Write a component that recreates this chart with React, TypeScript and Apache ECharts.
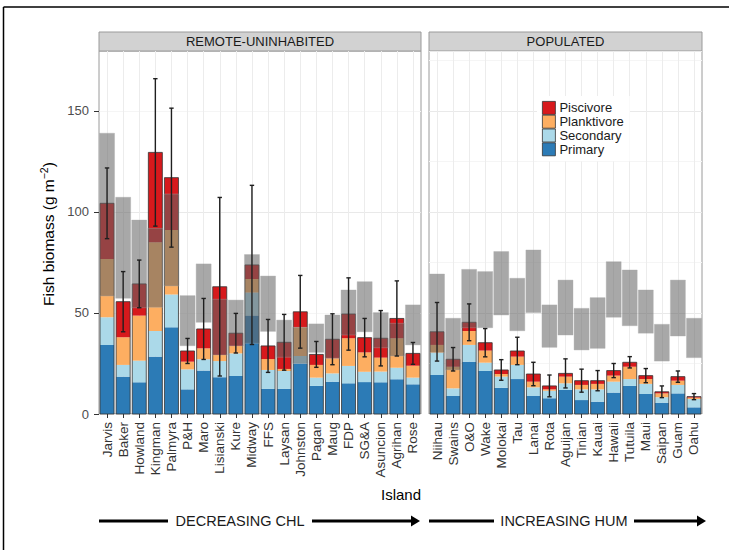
import React, { useEffect, useRef } from "react";
import * as echarts from "echarts";

// ---------- DATA ----------
const remoteIslands = ["Jarvis", "Baker", "Howland", "Kingman", "Palmyra", "P&H", "Maro", "Lisianski", "Kure", "Midway", "FFS", "Laysan", "Johnston", "Pagan", "Maug", "FDP", "SG&A", "Asuncion", "Agrihan", "Rose"];
const remotePrimary = [34.2, 18.5, 15.7, 28.4, 42.9, 12.2, 21.5, 18.2, 18.8, 48.7, 12.4, 12.4, 25.1, 13.9, 16, 15.2, 15.8, 15.7, 17.2, 14.7];
const remoteSecondary = [13.7, 5.8, 10.7, 12.7, 16.3, 9.9, 5.6, 8, 11.2, 11.5, 9.4, 8.9, 3.6, 4.1, 4.1, 8.6, 5.1, 5.3, 5.7, 3.3];
const remotePlanktivore = [28.8, 13.7, 22.3, 43.9, 31.9, 3.8, 5.4, 3, 3.7, 6.6, 5.4, 1, 14.2, 6.3, 7.5, 13.7, 9.6, 6.9, 14.6, 5.9];
const remotePiscivore = [27.6, 17.6, 15.7, 44.5, 25.9, 5.3, 9.6, 33.8, 6.3, 7, 6.5, 13.2, 7.7, 5.2, 9.4, 12, 7.3, 9.6, 9.8, 6.1];
const remoteSE = [17.5, 14.9, 11.8, 36.5, 34.4, 6.2, 15.1, 44.2, 9.8, 39.4, 13.1, 13.8, 18, 6.4, 12.6, 17.9, 9.5, 13.7, 18.6, 5.4];
const remotePredLow = [58.4, 57.3, 52.6, 52.8, 63.4, 33.8, 45.4, 29.2, 33.7, 35, 40.9, 28.1, 25, 30.5, 27.6, 39.1, 40.7, 32.8, 28.7, 34.2];
const remotePredHigh = [139, 107.3, 96, 91.9, 108.9, 58.6, 74.3, 56.8, 56.4, 78.9, 68.3, 46.5, 42.9, 44.6, 49, 61.4, 65.5, 50.2, 44.9, 54];

const popIslands = ["Niihau", "Swains", "O&O", "Wake", "Molokai", "Tau", "Lanai", "Rota", "Aguijan", "Tinian", "Kauai", "Hawaii", "Tutuila", "Maui", "Saipan", "Guam", "Oahu"];
const popPrimary = [19.3, 8.9, 25.9, 21.3, 13, 17.3, 8.9, 7.8, 11.9, 6.9, 6.1, 10.6, 13.9, 9.9, 5.6, 10.2, 3.3];
const popSecondary = [11.1, 3.8, 8.3, 4.1, 5.5, 7, 4.3, 3.7, 3.3, 5.3, 6.1, 5.4, 3.4, 5, 2.7, 4.2, 4.1];
const popPlanktivore = [3.8, 10.7, 6.9, 6, 1.3, 4.1, 2.8, 0.7, 3.3, 2.2, 2.7, 3, 6.1, 2.4, 1.9, 2.1, 0.7];
const popPiscivore = [6.5, 3.7, 4.3, 3.9, 2, 2.8, 3.8, 1.7, 1.6, 2.1, 1.6, 2.5, 2.2, 1.7, 0.8, 2, 0.5];
const popSE = [14.5, 5.8, 9.1, 7, 5.1, 6.8, 5.8, 5.4, 7.2, 5.7, 5, 3.5, 2.8, 3.5, 2.9, 2.8, 1.5];
const popPredLow = [30.4, 21.8, 42.7, 42.7, 49, 41.2, 50.2, 33, 39.1, 31.7, 32.5, 47.9, 43.7, 40, 26.2, 38.6, 27.9];
const popPredHigh = [69.3, 47.4, 71.6, 70.5, 80.4, 67.2, 81.2, 54, 66.3, 52.3, 57.6, 75.4, 71.3, 61.4, 44.4, 66.3, 47.4];

const yTicks = [0, 50, 100, 150];
const panelNames = ["REMOTE-UNINHABITED", "POPULATED"];
const groupNames = ["Primary", "Secondary", "Planktivore", "Piscivore"];
const groupColors = ["#2c7bb6", "#abd9e9", "#fdae61", "#d7191c"];

const FONT = "'Liberation Sans', Arial, Helvetica, sans-serif";
const Y_MAX = 179.7;

const panels = [
  { cats: remoteIslands, vals: [remotePrimary, remoteSecondary, remotePlanktivore, remotePiscivore], se: remoteSE, lo: remotePredLow, hi: remotePredHigh },
  { cats: popIslands, vals: [popPrimary, popSecondary, popPlanktivore, popPiscivore], se: popSE, lo: popPredLow, hi: popPredHigh },
];

const gridBoxes = [
  { left: 99, top: 51, width: 322, height: 363 },
  { left: 429, top: 51, width: 273, height: 363 },
];

export default function App() {
  const ref = useRef<HTMLDivElement>(null);
  useEffect(() => {
    const chart = echarts.init(ref.current!, null, { renderer: "svg" });
    const BAR_FRAC = 0.87;

    const grid = gridBoxes.map((g) => ({
      ...g,
      show: true,
      backgroundColor: "#ffffff",
      borderColor: "#9a9a9a",
      borderWidth: 1,
      containLabel: false,
    }));

    const xAxis = panels.map((p, gi) => ({
      type: "category",
      gridIndex: gi,
      data: p.cats,
      axisLine: { show: false },
      axisTick: { show: true, alignWithLabel: true, length: 4, lineStyle: { color: "#333333", width: 1 } },
      splitLine: { show: true, alignWithLabel: true, lineStyle: { color: "#ececec", width: 1 } },
      axisLabel: {
        rotate: 90,
        interval: 0,
        fontSize: 13.5,
        fontFamily: FONT,
        color: "#333333",
        margin: 8,
      },
    }));

    const yAxis = panels.map((p, gi) => ({
      type: "value",
      gridIndex: gi,
      min: 0,
      max: Y_MAX,
      interval: 25,
      axisLine: { show: false },
      axisTick: gi === 0 ? { show: true, customValues: yTicks, length: 5, lineStyle: { color: "#333333" } } : { show: false },
      axisLabel:
        gi === 0
          ? {
              show: true,
              customValues: yTicks,
              fontSize: 13,
              fontFamily: FONT,
              color: "#4d4d4d",
              margin: 10,
              formatter: (v: number) => (v % 50 === 0 ? String(v) : ""),
            }
          : { show: false },
      splitLine: { show: true, lineStyle: { color: ["#e9e9e9", "#f5f5f5"], width: 1 } },
    }));

    const series: any[] = [];
    panels.forEach((p, gi) => {
      groupNames.forEach((name, k) => {
        series.push({
          type: "bar",
          name,
          xAxisIndex: gi,
          yAxisIndex: gi,
          stack: "s" + gi,
          barWidth: "87%",
          itemStyle: { color: groupColors[k] },
          data: p.vals[k],
          z: 2,
        });
      });
      const totals = p.cats.map((_, i) => p.vals.reduce((s, arr) => s + arr[i], 0));
      // outline of the whole stacked bar
      series.push({
        type: "custom",
        xAxisIndex: gi,
        yAxisIndex: gi,
        z: 3,
        silent: true,
        data: totals.map((t, i) => [i, t]),
        renderItem: (params: any, api: any) => {
          const x = api.value(0);
          const top = api.coord([x, api.value(1)]);
          const bot = api.coord([x, 0]);
          const w = api.size([1, 0])[0] * BAR_FRAC;
          return {
            type: "rect",
            shape: { x: top[0] - w / 2, y: top[1], width: w, height: bot[1] - top[1] },
            style: { fill: "none", stroke: "#333333", lineWidth: 0.8 },
          };
        },
      });
      // predicted range (gray boxes)
      series.push({
        type: "custom",
        xAxisIndex: gi,
        yAxisIndex: gi,
        z: 4,
        silent: true,
        data: p.lo.map((lo, i) => [i, lo, p.hi[i]]),
        renderItem: (params: any, api: any) => {
          const x = api.value(0);
          const hi = api.coord([x, api.value(2)]);
          const lo = api.coord([x, api.value(1)]);
          const w = api.size([1, 0])[0] * BAR_FRAC + 1;
          return {
            type: "rect",
            shape: { x: hi[0] - w / 2, y: hi[1], width: w, height: lo[1] - hi[1] },
            style: { fill: "rgba(100,100,100,0.56)", stroke: "rgba(170,170,170,0.6)", lineWidth: 0.6 },
          };
        },
      });
      // error bars
      series.push({
        type: "custom",
        xAxisIndex: gi,
        yAxisIndex: gi,
        z: 5,
        silent: true,
        data: totals.map((t, i) => [i, t, p.se[i]]),
        renderItem: (params: any, api: any) => {
          const x = api.value(0);
          const c = api.value(1);
          const e = api.value(2);
          const up = api.coord([x, c + e]);
          const dn = api.coord([x, c - e]);
          const cw = 2.2;
          const st = { stroke: "#1f1f1f", lineWidth: 1.4 };
          return {
            type: "group",
            children: [
              { type: "line", shape: { x1: up[0], y1: up[1], x2: dn[0], y2: dn[1] }, style: st },
              { type: "line", shape: { x1: up[0] - cw, y1: up[1], x2: up[0] + cw, y2: up[1] }, style: st },
              { type: "line", shape: { x1: dn[0] - cw, y1: dn[1], x2: dn[0] + cw, y2: dn[1] }, style: st },
            ],
          };
        },
      });
    });

    const textStyleBase = { fontFamily: FONT };

    const graphic: any[] = [
      // figure frame (top and left edges visible)
      { type: "line", shape: { x1: 3.5, y1: 7, x2: 729, y2: 7 }, style: { stroke: "#000", lineWidth: 1.5 } },
      { type: "line", shape: { x1: 3.5, y1: 7, x2: 3.5, y2: 550 }, style: { stroke: "#000", lineWidth: 1.5 } },
    ];
    gridBoxes.forEach((g, gi) => {
      graphic.push({
        type: "rect",
        shape: { x: g.left, y: 32, width: g.width, height: 19 },
        style: { fill: "#d2d2d2", stroke: "#9a9a9a", lineWidth: 1 },
      });
      graphic.push({
        type: "text",
        x: g.left + g.width / 2,
        y: 41.5,
        style: { ...textStyleBase, text: panelNames[gi], fontSize: 13, fill: "#1a1a1a", align: "center", verticalAlign: "middle" },
      });
    });
    // y-axis title
    graphic.push({
      type: "text",
      x: 48,
      y: 234,
      rotation: Math.PI / 2,
      style: {
        text: "{a|Fish biomass (g m}{s|−2}{a|)}",
        align: "center",
        verticalAlign: "middle",
        fill: "#000",
        rich: {
          a: { fontFamily: FONT, fontSize: 15.5, lineHeight: 20, verticalAlign: "middle", fill: "#000" },
          s: { fontFamily: FONT, fontSize: 10.5, lineHeight: 11, verticalAlign: "top", fill: "#000" },
        },
      },
    });
    // x-axis title
    graphic.push({
      type: "text",
      x: 401,
      y: 494,
      style: { ...textStyleBase, text: "Island", fontSize: 15, fill: "#000", align: "center", verticalAlign: "middle" },
    });
    // arrows
    const arrowY = 521;
    const arrowStyle = { stroke: "#000", lineWidth: 3 };
    const arrows = [
      { x0: 99, x1: 168, tx: 240, x2: 312, x3: 420, label: "DECREASING CHL" },
      { x0: 429, x1: 494, tx: 564, x2: 634, x3: 706, label: "INCREASING HUM" },
    ];
    arrows.forEach((a) => {
      graphic.push({ type: "line", shape: { x1: a.x0, y1: arrowY, x2: a.x1, y2: arrowY }, style: arrowStyle });
      graphic.push({ type: "line", shape: { x1: a.x2, y1: arrowY, x2: a.x3 - 7, y2: arrowY }, style: arrowStyle });
      graphic.push({
        type: "polygon",
        shape: { points: [[a.x3 - 9, arrowY - 5.5], [a.x3, arrowY], [a.x3 - 9, arrowY + 5.5]] },
        style: { fill: "#000" },
      });
      graphic.push({
        type: "text",
        x: a.tx,
        y: arrowY,
        style: { ...textStyleBase, text: a.label, fontSize: 14.5, fill: "#1a1a1a", align: "center", verticalAlign: "middle" },
      });
    });

    const option: any = {
      animation: false,
      backgroundColor: "#ffffff",
      textStyle: { fontFamily: FONT },
      grid,
      xAxis,
      yAxis,
      legend: {
        show: true,
        orient: "vertical",
        left: 537,
        top: 96,
        padding: [5, 6, 5, 5],
        backgroundColor: "#ffffff",
        itemWidth: 13,
        itemHeight: 13,
        itemGap: 0,
        icon: "rect",
        data: ["Piscivore", "Planktivore", "Secondary", "Primary"],
        itemStyle: { borderColor: "#333333", borderWidth: 0.8 },
        textStyle: { fontFamily: FONT, fontSize: 13, color: "#1a1a1a", padding: [0, 0, 0, -1] },
        selectedMode: false,
      },
      series,
      graphic,
    };
    chart.setOption(option);
    return () => chart.dispose();
  }, []);
  return <div ref={ref} style={{ position: "fixed", left: 0, top: 0, width: 729, height: 550 }} />;
}
